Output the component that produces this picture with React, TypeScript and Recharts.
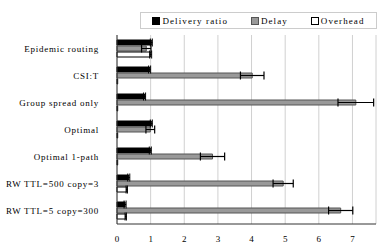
import { BarChart, Bar, XAxis, YAxis, CartesianGrid, ErrorBar } from "recharts";

const categories = [
  "Epidemic routing",
  "CSI:T",
  "Group spread only",
  "Optimal",
  "Optimal 1-path",
  "RW TTL=500 copy=3",
  "RW TTL=5 copy=300",
];
const deliveryRatio = [1.02, 0.97, 0.82, 1.02, 0.99, 0.35, 0.24];
const deliveryErr = [0.03, 0.03, 0.03, 0.03, 0.03, 0.03, 0.03];
const delay = [0.87, 4.02, 7.1, 0.99, 2.84, 4.94, 6.65];
const delayErr = [0.14, 0.35, 0.53, 0.13, 0.36, 0.3, 0.36];
const overhead = [1.0, 0.02, 0.02, 0.02, 0.02, 0.29, 0.26];
const overheadErr = [0.03, 0.0, 0.0, 0.0, 0.0, 0.02, 0.02];
const xTicks = [0, 1, 2, 3, 4, 5, 6, 7];

const data = categories.map((name, i) => ({
  name,
  delivery: deliveryRatio[i],
  deliveryErr: deliveryErr[i],
  delay: delay[i],
  delayErr: delayErr[i],
  overhead: overhead[i],
  overheadErr: overheadErr[i],
}));

const font = "'Liberation Serif', 'DejaVu Serif', serif";

const legendItems = [
  { label: "Delivery ratio", fill: "#000000", stroke: "#000000" },
  { label: "Delay", fill: "#999999", stroke: "#555555" },
  { label: "Overhead", fill: "#ffffff", stroke: "#000000" },
];

const CategoryTick = (props: any) => {
  const { x, y, payload } = props;
  return (
    <text
      x={x - 10}
      y={y}
      textAnchor="end"
      dominantBaseline="central"
      fontFamily={font}
      fontSize={9}
      letterSpacing={0.75}
      fill="#000"
    >
      {payload.value}
    </text>
  );
};

const ValueTick = (props: any) => {
  const { x, y, payload } = props;
  return (
    <text x={x} y={y + 10} textAnchor="middle" fontFamily={font} fontSize={9} fill="#000">
      {payload.value}
    </text>
  );
};

export default function App() {
  return (
    <div
      style={{
        position: "absolute",
        left: 0,
        top: 0,
        width: 388,
        height: 250,
        background: "#fff",
        fontFamily: font,
      }}
    >
      <div
        style={{
          position: "absolute",
          left: 140,
          top: 12,
          width: 237,
          height: 17,
          border: "1px solid #cccccc",
          boxSizing: "border-box",
          display: "flex",
          alignItems: "center",
          justifyContent: "space-around",
          fontSize: 9,
          letterSpacing: 1.1,
        }}
      >
        {legendItems.map((it) => (
          <div key={it.label} style={{ display: "flex", alignItems: "center" }}>
            <span
              style={{
                display: "inline-block",
                width: 6,
                height: 6,
                background: it.fill,
                border: `1px solid ${it.stroke}`,
                marginRight: 2,
              }}
            />
            <span>{it.label}</span>
          </div>
        ))}
      </div>
      <BarChart
        width={388}
        height={250}
        data={data}
        layout="vertical"
        margin={{ top: 35, right: 12, left: 0, bottom: 0 }}
        barCategoryGap={5}
        barGap={1}
      >
        <CartesianGrid horizontal={false} stroke="#d0d0d0" />
        <XAxis
          type="number"
          domain={[0, 7.7]}
          ticks={xTicks}
          height={26}
          axisLine={{ stroke: "#333" }}
          tickLine={false}
          tick={<ValueTick />}
        />
        <YAxis
          type="category"
          dataKey="name"
          width={117}
          axisLine={{ stroke: "#333" }}
          tickLine={false}
          tick={<CategoryTick />}
        />
        <Bar dataKey="delivery" fill="#000000" stroke="#000000" barSize={5} isAnimationActive={false}>
          <ErrorBar dataKey="deliveryErr" direction="x" width={4} stroke="#000" strokeWidth={1} />
        </Bar>
        <Bar dataKey="delay" fill="#999999" stroke="#555555" barSize={5} isAnimationActive={false}>
          <ErrorBar dataKey="delayErr" direction="x" width={4} stroke="#000" strokeWidth={1.2} />
        </Bar>
        <Bar dataKey="overhead" fill="#ffffff" stroke="#000000" barSize={5} isAnimationActive={false}>
          <ErrorBar dataKey="overheadErr" direction="x" width={4} stroke="#000" strokeWidth={1} />
        </Bar>
      </BarChart>
    </div>
  );
}
